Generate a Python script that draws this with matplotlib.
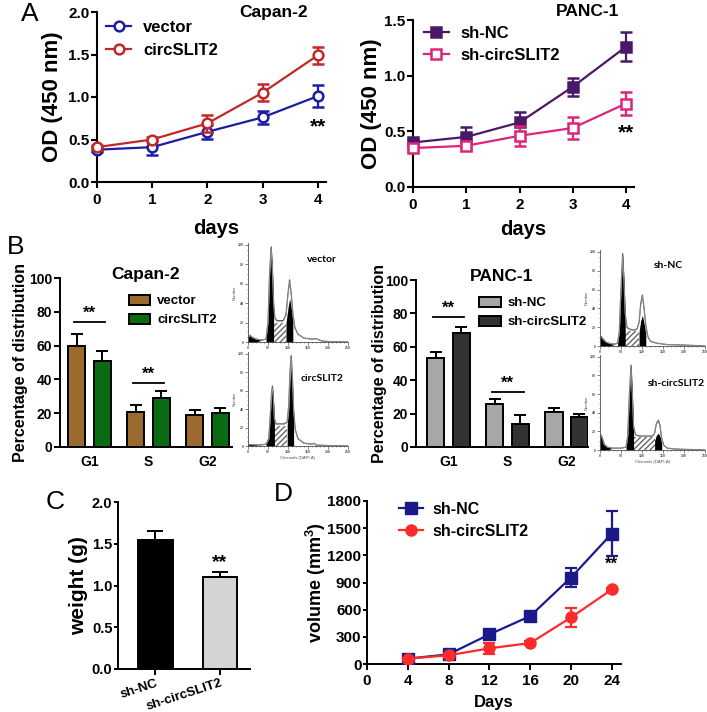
import numpy as np
import matplotlib
matplotlib.use("Agg")
import matplotlib.pyplot as plt
from matplotlib.lines import Line2D
from matplotlib.patches import Patch

W, H = 707, 712

# Panel A: CCK-8 growth curves
days = [0, 1, 2, 3, 4]
capan_vector = [0.38, 0.41, 0.59, 0.76, 1.01]
capan_vector_err = [0.03, 0.09, 0.08, 0.08, 0.13]
capan_circ = [0.41, 0.50, 0.69, 1.05, 1.49]
capan_circ_err = [0.03, 0.03, 0.10, 0.10, 0.10]
panc_nc = [0.40, 0.45, 0.58, 0.90, 1.26]
panc_nc_err = [0.03, 0.09, 0.09, 0.08, 0.13]
panc_sh = [0.35, 0.37, 0.46, 0.53, 0.75]
panc_sh_err = [0.03, 0.04, 0.09, 0.10, 0.10]

# Panel B: cell cycle distribution
phases = ["G1", "S", "G2"]
capan_bar_vector = [60, 21, 19]
capan_bar_vector_err = [7, 4, 3]
capan_bar_circ = [51, 29, 20]
capan_bar_circ_err = [6, 4, 3]
panc_bar_nc = [53, 26, 21]
panc_bar_nc_err = [4, 3, 2.5]
panc_bar_sh = [68, 14, 18]
panc_bar_sh_err = [4, 5, 2]

# flow histograms (channel, % of max)
vec_hx = [0, 3, 5, 10, 20, 35, 45, 50, 54, 58, 61, 64, 67, 72, 80, 88, 95, 100, 104, 108, 112, 117, 125, 140, 160, 170, 185, 200, 250]
vec_hy = [4, 6.4, 7, 5, 3, 2, 3, 20, 70, 98, 75, 40, 25, 22, 22, 22, 28, 50, 64, 50, 30, 15, 8, 4, 3, 3.5, 1, 0.5, 0]
circ_hx = [0, 2, 10, 30, 45, 52, 56, 59, 61, 63, 66, 70, 78, 90, 98, 102, 105, 108, 111, 114, 118, 125, 140, 160, 165, 170, 200, 250]
circ_hy = [1, 1.5, 1.5, 1, 2, 8, 35, 58, 65, 55, 30, 24, 24, 24, 26, 45, 80, 98, 75, 40, 18, 8, 3, 2, 3, 1, 0.5, 0]
nc_hx = [0, 3, 8, 15, 25, 35, 42, 46, 50, 54, 57, 60, 64, 70, 80, 88, 93, 97, 101, 105, 109, 114, 120, 135, 160, 200, 250]
nc_hy = [8, 10, 7, 4, 2.5, 2, 3, 15, 60, 98, 70, 35, 20, 18, 17, 18, 25, 45, 54, 40, 22, 10, 5, 3, 1.5, 1, 0]
sh_hx = [0, 3, 6, 10, 18, 30, 50, 62, 66, 70, 74, 77, 80, 85, 95, 110, 125, 130, 134, 139, 143, 147, 152, 160, 180, 250]
sh_hy = [14, 16, 12, 6, 3, 2, 2, 3, 15, 60, 91, 60, 25, 16, 15, 15, 15, 18, 28, 32, 26, 12, 5, 2, 1, 0]

# Panel C: tumour weight
groups_c = ["sh-NC", "sh-circSLIT2"]
weight = [1.55, 1.10]
weight_err = [0.10, 0.06]

# Panel D: tumour volume
days_d = [4, 8, 12, 16, 20, 24]
vol_nc = [59, 107, 327, 529, 955, 1440]
vol_nc_err = [15, 20, 30, 25, 107, 245]
vol_sh = [59, 96, 173, 231, 514, 823]
vol_sh_err = [10, 15, 62, 20, 107, 20]

plt.rcParams["font.family"] = ["Liberation Sans", "DejaVu Sans"]
plt.rcParams["font.weight"] = "bold"
plt.rcParams["axes.labelweight"] = "bold"
plt.rcParams["mathtext.fontset"] = "custom"
plt.rcParams["mathtext.rm"] = "Liberation Sans:bold"
plt.rcParams["mathtext.it"] = "Liberation Sans:bold"
plt.rcParams["mathtext.bf"] = "Liberation Sans:bold"

fig = plt.figure(figsize=(W / 100, H / 100), dpi=100)


def px_axes(l, t, r, b):
    return fig.add_axes([l / W, 1 - b / H, (r - l) / W, (b - t) / H])


def style(ax, lw=1.5, size=11):
    for s in ("top", "right"):
        ax.spines[s].set_visible(False)
    for s in ("left", "bottom"):
        ax.spines[s].set_linewidth(lw)
    ax.tick_params(width=lw, length=4, labelsize=size, direction="out", pad=1.5)


def growth(ax, a, a_err, b, b_err, ca, cb, marker, a_fill, labels, ymax, yticks, title, title_pos, leg_pos):
    ax.errorbar(days, a, yerr=a_err, fmt="-" + marker, color=ca, mfc=a_fill, mec=ca,
                mew=1.8, ms=7, lw=1.6, capsize=4, elinewidth=1.6, capthick=1.6, clip_on=False, zorder=3)
    ax.errorbar(days, b, yerr=b_err, fmt="-" + marker, color=cb, mfc="white", mec=cb,
                mew=1.8, ms=7, lw=1.6, capsize=4, elinewidth=1.6, capthick=1.6, clip_on=False, zorder=4)
    ax.set_xlim(0, 4.15)
    ax.set_ylim(0, ymax)
    ax.set_xticks(days)
    ax.set_yticks(yticks)
    ax.set_yticklabels([f"{v:.1f}" for v in yticks])
    style(ax)
    ax.tick_params(axis="x", pad=4)
    ax.set_xlabel("days", fontsize=14.5)
    ax.set_ylabel("OD (450 nm)", fontsize=16)
    ax.text(title_pos[0], title_pos[1], title, transform=ax.transAxes, ha="center", va="center", fontsize=12.5)
    handles = [Line2D([], [], color=ca, marker=marker, mfc=a_fill, mec=ca, mew=1.8, ms=7, lw=1.6),
               Line2D([], [], color=cb, marker=marker, mfc="white", mec=cb, mew=1.8, ms=7, lw=1.6)]
    ax.legend(handles, labels, loc="upper left", bbox_to_anchor=leg_pos, frameon=False,
              fontsize=12, handlelength=1.5, handletextpad=0.7, labelspacing=0.45)


# ---- A ----
axA1 = px_axes(97, 12, 326, 182)
growth(axA1, capan_vector, capan_vector_err, capan_circ, capan_circ_err, "#1C1CA4", "#C0282A",
       "o", "white", ["vector", "circSLIT2"], 2.0, [0.0, 0.5, 1.0, 1.5, 2.0], "Capan-2",
       (0.77, 1.0), (-0.025, 1.04))
axA1.yaxis.set_label_coords(-0.15, 0.5)
axA1.xaxis.set_label_coords(0.52, -0.215)
axA1.text(4, 0.65, "**", ha="center", va="center", fontsize=15)

axA2 = px_axes(413, 20, 634, 187)
growth(axA2, panc_nc, panc_nc_err, panc_sh, panc_sh_err, "#4A1868", "#DE2478",
       "s", "#4A1868", ["sh-NC", "sh-circSLIT2"], 1.5, [0.0, 0.5, 1.0, 1.5], "PANC-1",
       (0.79, 1.05), (-0.02, 1.055))
axA2.yaxis.set_label_coords(-0.14, 0.5)
axA2.xaxis.set_label_coords(0.5, -0.2)
axA2.text(4, 0.49, "**", ha="center", va="center", fontsize=15)


# ---- B ----
def cycle(ax, a, a_err, b, b_err, ca, cb, labels, title, xlim, sig, leg_pos):
    x = np.arange(len(phases))
    off, wd = 0.215, 0.29
    for xs, vals, errs, c in ((x - off, a, a_err, ca), (x + off, b, b_err, cb)):
        ax.bar(xs, vals, width=wd, color=c, edgecolor="black", lw=1.4, zorder=2)
        ax.errorbar(xs, vals, yerr=[np.zeros(len(errs)), errs], fmt="none", ecolor="black",
                    elinewidth=1.4, capsize=4, capthick=1.4, zorder=3)
    ax.set_xlim(*xlim)
    ax.set_ylim(0, 100)
    ax.set_xticks(x)
    ax.set_xticklabels(phases, fontsize=11)
    ax.set_yticks([0, 20, 40, 60, 80, 100])
    style(ax, lw=1.4, size=10)
    ax.tick_params(axis="x", length=0, pad=6)
    ax.set_ylabel("Percentage of distribution", fontsize=11.5)
    ax.text(0.5, 1.02, title, transform=ax.transAxes, ha="center", va="center", fontsize=12.5)
    for gi, level in sig:
        ax.plot([gi - 0.27, gi + 0.27], [level, level], color="black", lw=1.3)
        ax.text(gi, level + 0.5, "**", ha="center", va="bottom", fontsize=12)
    handles = [Patch(facecolor=ca, edgecolor="black", lw=1.4), Patch(facecolor=cb, edgecolor="black", lw=1.4)]
    ax.legend(handles, labels, loc="upper left", bbox_to_anchor=leg_pos, frameon=False,
              fontsize=9.5, handlelength=1.6, handleheight=0.75, handletextpad=0.55, labelspacing=0.5)


axB1 = px_axes(60, 278, 232, 447)
cycle(axB1, capan_bar_vector, capan_bar_vector_err, capan_bar_circ, capan_bar_circ_err,
      "#9B6A2F", "#0A6B12", ["vector", "circSLIT2"], "Capan-2", (-0.5, 2.415), [(0, 74), (1, 38)],
      (0.33, 0.97))
axB1.yaxis.set_label_coords(-0.186, 0.5)

axB2 = px_axes(416, 280, 588, 447)
cycle(axB2, panc_bar_nc, panc_bar_nc_err, panc_bar_sh, panc_bar_sh_err,
      "#A7A7AA", "#333333", ["sh-NC", "sh-circSLIT2"], "PANC-1", (-0.55, 2.36), [(0, 78), (1, 33)],
      (0.3, 0.97))
axB2.yaxis.set_label_coords(-0.17, 0.5)


def hist(ax, hx, hy, g1, g2, g2_scale, s_level, debris, label):
    hx = np.array(hx, dtype=float)
    hy = np.array(hy, dtype=float)
    ax.fill_between(hx, hy, where=hx <= debris, color="black", lw=0, interpolate=True)
    ax.fill_between(hx, np.minimum(hy, s_level), where=(hx >= g1[1]) & (hx <= g2[0]),
                    facecolor="white", edgecolor="0.4", hatch="//////", lw=0)
    ax.fill_between(hx, hy, where=(hx >= g1[0]) & (hx <= g1[1]), color="black", lw=0)
    ax.fill_between(hx, hy * g2_scale, where=(hx >= g2[0]) & (hx <= g2[1]), color="black", lw=0)
    ax.plot(hx, hy, color="0.35", lw=0.9)
    ax.plot(hx, hy * 0.97, color="0.6", lw=0.5)
    ax.set_xlim(0, 250)
    ax.set_ylim(0, 102)
    for s in ("top", "right"):
        ax.spines[s].set_visible(False)
    for s in ("left", "bottom"):
        ax.spines[s].set_linewidth(0.6)
        ax.spines[s].set_color("0.3")
    ax.set_xticks([0, 50, 100, 150, 200, 250])
    ax.set_xticks(np.arange(0, 251, 10), minor=True)
    ax.set_yticks([0, 20, 40, 60, 80, 100])
    ax.set_yticks(np.arange(0, 101, 5), minor=True)
    ax.tick_params(which="major", length=2, width=0.5, labelsize=2.5, pad=1, colors="0.3")
    ax.tick_params(which="minor", length=1, width=0.4, colors="0.3")
    ax.set_xlabel("Channels (DAPI-A)", fontsize=3, fontweight="normal", labelpad=1, color="0.3")
    ax.set_ylabel("Number", fontsize=3, fontweight="normal", labelpad=1, color="0.3")
    ax.text(label[1], label[2], label[0], transform=ax.transAxes, ha="center", va="center",
            fontsize=7.5, family=["Lato", "DejaVu Sans"], fontweight="bold")


hist(px_axes(248, 243, 348, 342), vec_hx, vec_hy, (45, 64), (95, 112), 0.7, 20, 20, ("vector", 0.74, 0.83))
hist(px_axes(248, 352, 348, 446), circ_hx, circ_hy, (45, 66), (98, 114), 0.9, 22, 10, ("circSLIT2", 0.74, 0.72))
hist(px_axes(600, 250, 705, 346), nc_hx, nc_hy, (42, 60), (93, 109), 0.6, 16, 25, ("sh-NC", 0.65, 0.84))
hist(px_axes(600, 355, 705, 450), sh_hx, sh_hy, (62, 80), (130, 147), 0.56, 14, 18, ("sh-circSLIT2", 0.73, 0.7))

# ---- C ----
axC = px_axes(118, 502, 250, 669)
xc = np.arange(len(groups_c))
axC.bar(xc, weight, width=0.54, color=["black", "#D4D4D4"], edgecolor="black", lw=1.4, zorder=2)
axC.errorbar(xc, weight, yerr=[[0, 0], weight_err], fmt="none", ecolor="black",
             elinewidth=1.4, capsize=6, capthick=1.4, zorder=3)
axC.set_xlim(-0.58, 1.465)
axC.set_ylim(0, 2.0)
axC.set_yticks([0.0, 0.5, 1.0, 1.5, 2.0])
axC.set_yticklabels(["0.0", "0.5", "1.0", "1.5", "2.0"])
axC.set_xticks(xc)
style(axC, lw=1.4, size=10.5)
axC.tick_params(axis="y", length=3, pad=1)
axC.set_xticklabels(groups_c, rotation=18, ha="right", rotation_mode="anchor", fontsize=9.5)
axC.tick_params(axis="x", pad=2)
axC.set_ylabel("weight (g)", fontsize=15)
axC.yaxis.set_label_coords(-0.225, 0.5)
axC.text(1, 1.27, "**", ha="center", va="center", fontsize=14)

# ---- D ----
axD = px_axes(367, 501, 621, 664)
axD.errorbar(days_d, vol_nc, yerr=vol_nc_err, fmt="-s", color="#1A1A8A", ms=8, lw=1.6,
             capsize=4, elinewidth=1.6, capthick=1.6, zorder=3)
axD.errorbar(days_d, vol_sh, yerr=vol_sh_err, fmt="-o", color="#FF2A2A", ms=8, lw=1.6,
             capsize=4, elinewidth=1.6, capthick=1.6, zorder=4)
axD.set_xlim(0, 24.9)
axD.set_ylim(0, 1800)
axD.set_xticks([0, 4, 8, 12, 16, 20, 24])
axD.set_yticks([0, 300, 600, 900, 1200, 1500, 1800])
style(axD, lw=1.4, size=11)
axD.tick_params(axis="y", length=3, pad=1)
axD.tick_params(axis="x", pad=3)
axD.set_xlabel("Days", fontsize=12)
axD.xaxis.set_label_coords(0.5, -0.19)
axD.set_ylabel("volume (mm$^{3}$)", fontsize=13)
axD.yaxis.set_label_coords(-0.155, 0.5)
axD.text(24, 1104, "**", ha="center", va="center", fontsize=12)
handles = [Line2D([], [], color="#1A1A8A", marker="s", ms=8, lw=1.6),
           Line2D([], [], color="#FF2A2A", marker="o", ms=8, lw=1.6)]
axD.legend(handles, ["sh-NC", "sh-circSLIT2"], loc="upper left", bbox_to_anchor=(0.07, 1.085),
           frameon=False, fontsize=11.5, handlelength=1.5, handletextpad=0.6, labelspacing=0.45)

# panel letters
for letter, x, y in (("A", 30, 14), ("B", 16, 247), ("C", 55, 502), ("D", 283, 494)):
    fig.text(x / W, 1 - y / H, letter, ha="center", va="center", fontsize=19, fontweight="normal")

fig.savefig("out.png", dpi=100)
